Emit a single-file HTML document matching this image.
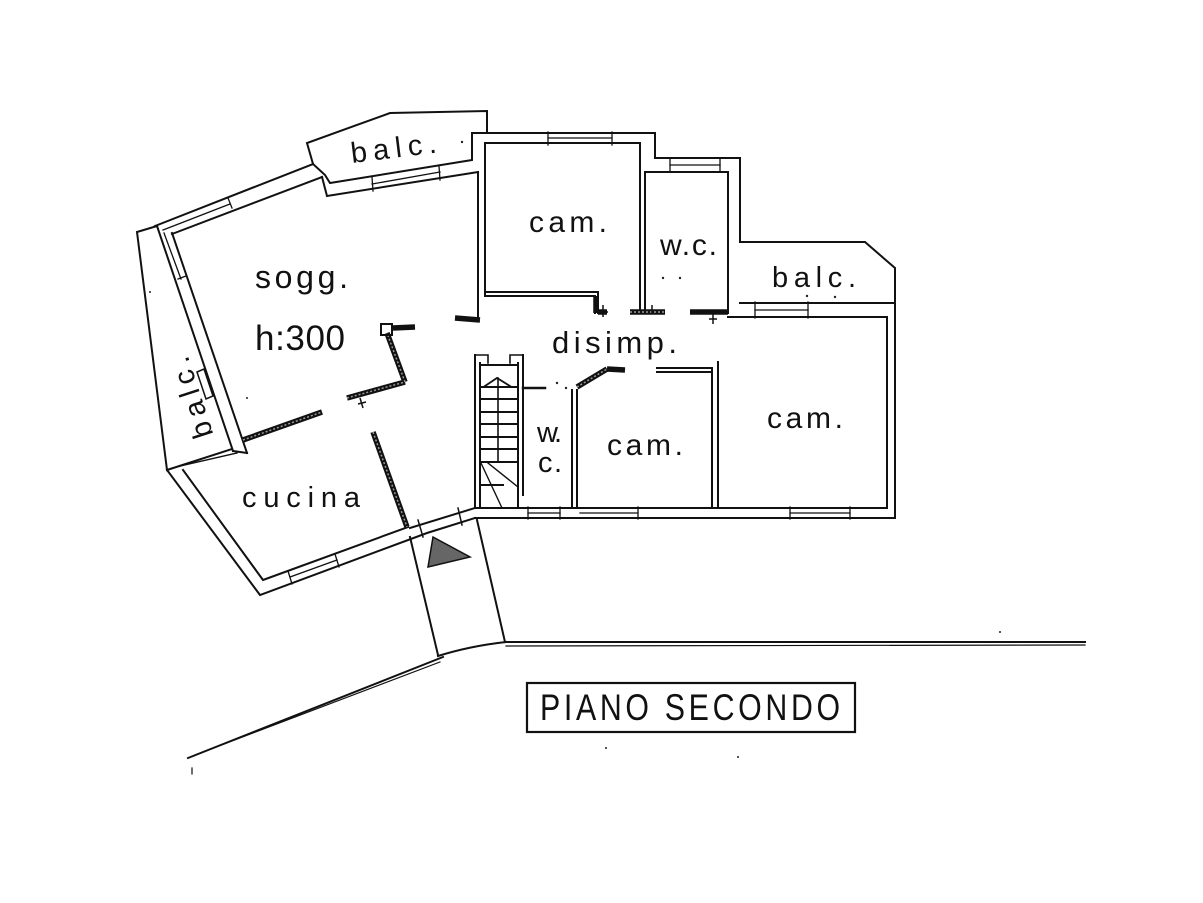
<!DOCTYPE html>
<html><head><meta charset="utf-8"><style>
html,body{margin:0;padding:0;background:#fff;}
svg{display:block;}
text{font-family:"Liberation Sans",sans-serif;fill:#111;}
</style></head><body>
<svg width="1203" height="903" viewBox="0 0 1203 903" xmlns="http://www.w3.org/2000/svg">
<rect width="1203" height="903" fill="#fff"/>
<g fill="none" stroke="#111" stroke-width="2" stroke-linejoin="miter" stroke-linecap="square">
<!-- left balcony -->
<polyline points="157,226 137,232 167,470 232,449"/>
<line x1="180" y1="466" x2="237" y2="453" stroke-width="1.4"/>
<!-- sogg west wall -->
<line x1="157" y1="226" x2="233" y2="451"/>
<line x1="172" y1="233" x2="247" y2="453"/>
<line x1="164" y1="233" x2="181" y2="279" stroke-width="1.3"/>
<line x1="178" y1="279" x2="186" y2="276" stroke-width="1.3"/>
<polygon points="197,372 204,369 213,396 206,399" stroke-width="1.5"/>
<line x1="233" y1="451" x2="247" y2="453"/>
<!-- sogg north wall -->
<line x1="155" y1="226" x2="313" y2="164"/>
<line x1="172" y1="234" x2="322" y2="177"/>
<line x1="163" y1="230" x2="230" y2="204" stroke-width="1.3"/>
<line x1="228" y1="198" x2="232" y2="208" stroke-width="1.3"/>
<polyline points="322,177 327,196 478,172"/>
<!-- top balcony -->
<polyline points="313,164 307,143 390,113 487,111 487,133"/>
<polyline points="313,164 325,175 330,183 472,160 472,133"/>
<line x1="372" y1="184" x2="440" y2="172" stroke-width="1.3"/>
<line x1="372" y1="177" x2="373" y2="191" stroke-width="1.3"/>
<line x1="439" y1="166" x2="440" y2="180" stroke-width="1.3"/>
<!-- cam top room -->
<polyline points="472,133 655,133 655,158 740,158 740,242 865,242 895,268 895,518"/>
<polyline points="485,296 485,143 640,143 640,313"/>
<line x1="478" y1="172" x2="478" y2="320"/>
<line x1="548" y1="138" x2="612" y2="138" stroke-width="1.3"/>
<line x1="548" y1="132" x2="548" y2="145" stroke-width="1.3"/>
<line x1="612" y1="132" x2="612" y2="145" stroke-width="1.3"/>
<polyline points="485,292 598,292 598,313"/>
<polyline points="487,296 595,296 595,313"/>
<!-- wc top -->
<polyline points="645,313 645,172 728,172 728,313"/>
<line x1="670" y1="165" x2="720" y2="165" stroke-width="1.3"/>
<line x1="670" y1="159" x2="670" y2="172" stroke-width="1.3"/>
<line x1="720" y1="159" x2="720" y2="172" stroke-width="1.3"/>
<!-- right cam -->
<line x1="740" y1="303" x2="895" y2="303"/>
<polyline points="728,317 887,317 887,508"/>
<line x1="755" y1="310" x2="808" y2="310" stroke-width="1.3"/>
<line x1="755" y1="302" x2="755" y2="318" stroke-width="1.3"/>
<line x1="808" y1="302" x2="808" y2="318" stroke-width="1.3"/>
<!-- bottom wall -->
<line x1="475" y1="508" x2="887" y2="508"/>
<line x1="475" y1="518" x2="895" y2="518"/>
<line x1="528" y1="513" x2="560" y2="513" stroke-width="1.3"/>
<line x1="528" y1="507" x2="528" y2="519" stroke-width="1.3"/>
<line x1="560" y1="507" x2="560" y2="519" stroke-width="1.3"/>
<line x1="580" y1="513" x2="638" y2="513" stroke-width="1.3"/>
<line x1="638" y1="507" x2="638" y2="519" stroke-width="1.3"/>
<line x1="790" y1="513" x2="850" y2="513" stroke-width="1.3"/>
<line x1="790" y1="507" x2="790" y2="519" stroke-width="1.3"/>
<line x1="850" y1="507" x2="850" y2="519" stroke-width="1.3"/>
<!-- partitions lower -->
<line x1="712" y1="368" x2="712" y2="508"/>
<line x1="718" y1="362" x2="718" y2="508"/>
<line x1="657" y1="368" x2="712" y2="368"/>
<line x1="657" y1="372" x2="712" y2="372"/>
<line x1="572" y1="390" x2="572" y2="508"/>
<line x1="577" y1="390" x2="577" y2="508"/>
<!-- stairs -->
<line x1="475" y1="355" x2="475" y2="508"/>
<line x1="480" y1="363" x2="480" y2="508"/>
<line x1="518" y1="363" x2="518" y2="508"/>
<line x1="523" y1="355" x2="523" y2="495"/>
<line x1="480" y1="365" x2="518" y2="365"/>
<polyline points="475,355 488,355 488,363" stroke-width="1.6"/>
<polyline points="510,363 510,355 523,355" stroke-width="1.6"/>
<g stroke-width="2">
<line x1="480" y1="387" x2="518" y2="387"/>
<line x1="480" y1="399" x2="518" y2="399"/>
<line x1="480" y1="412" x2="518" y2="412"/>
<line x1="480" y1="424" x2="518" y2="424"/>
<line x1="480" y1="437" x2="518" y2="437"/>
<line x1="480" y1="449" x2="518" y2="449"/>
<line x1="480" y1="462" x2="518" y2="462"/>
<line x1="480" y1="485" x2="503" y2="485"/>
</g>
<polyline points="485,386 497,378 510,386" stroke-width="1.8"/>
<line x1="498" y1="378" x2="498" y2="462" stroke-width="1.6"/>
<line x1="481" y1="463" x2="502" y2="508" stroke-width="1.4"/>
<line x1="488" y1="463" x2="518" y2="487" stroke-width="1.4"/>
<line x1="523" y1="388" x2="545" y2="388" stroke-width="2.5"/>
<!-- cucina -->
<polyline points="167,470 260,595 427,533 475,518"/>
<polyline points="183,470 263,580 408,527"/>
<polyline points="410,528 475,508"/>
<line x1="290" y1="577" x2="337" y2="560" stroke-width="1.3"/>
<line x1="288" y1="571" x2="292" y2="584" stroke-width="1.3"/>
<line x1="335" y1="554" x2="339" y2="567" stroke-width="1.3"/>
<line x1="418" y1="520" x2="423" y2="537" stroke-width="1.5"/>
<line x1="458" y1="508" x2="462" y2="525" stroke-width="1.5"/>
<!-- entrance -->
<line x1="410" y1="537" x2="438" y2="655" stroke-width="2"/>
<line x1="477" y1="520" x2="505" y2="642" stroke-width="2"/>
<path d="M438,656 Q470,646 506,642" stroke-width="2"/>
<line x1="506" y1="642" x2="1085" y2="642" stroke-width="2"/>
<line x1="506" y1="646" x2="1085" y2="645" stroke-width="1.2"/>
<line x1="443" y1="657" x2="188" y2="758" stroke-width="2"/>
<line x1="440" y1="662" x2="195" y2="755" stroke-width="1.2"/>
<line x1="192" y1="768" x2="192" y2="774" stroke-width="1.2"/>
<!-- title box -->
<rect x="527" y="683" width="328" height="49" stroke-width="2.2"/>
</g>
<!-- hatched partitions -->
<g fill="none" stroke-linecap="butt">
<g stroke="#111" stroke-width="5.5">
<line x1="243" y1="440" x2="322" y2="412"/>
<line x1="347" y1="398" x2="405" y2="382"/>
<line x1="405" y1="382" x2="387" y2="333"/>
<line x1="393" y1="328" x2="415" y2="327"/>
<line x1="373" y1="432" x2="407" y2="527"/>
<line x1="455" y1="318" x2="480" y2="320"/>
<line x1="577" y1="387" x2="607" y2="369"/>
<line x1="607" y1="369" x2="625" y2="370"/>
<line x1="598" y1="312" x2="607" y2="312"/>
<line x1="630" y1="312" x2="665" y2="312"/>
<line x1="690" y1="312" x2="728" y2="312"/>
<line x1="596" y1="296" x2="596" y2="313"/>
</g>
<g stroke="#999" stroke-width="1.5" stroke-dasharray="2 2">
<line x1="243" y1="440" x2="322" y2="412"/>
<line x1="347" y1="398" x2="405" y2="382"/>
<line x1="405" y1="382" x2="387" y2="333"/>
<line x1="373" y1="432" x2="407" y2="527"/>
<line x1="577" y1="387" x2="607" y2="369"/>
<line x1="630" y1="312" x2="665" y2="312"/>
</g>
<rect x="381" y="324" width="11" height="11" stroke="#111" stroke-width="2"/>
<g stroke="#111" stroke-width="1.5">
<path d="M360,398 l3,10 M358,404 l8,-2"/>
<path d="M603,305 l0,12 M600,312 l8,0"/>
<path d="M713,314 l0,10 M709,319 l8,0"/>
<path d="M652,305 l0,8"/>
</g>
</g>
<!-- entrance triangle -->
<polygon points="433,537 470,557 428,567" fill="#666" stroke="#111" stroke-width="1.5"/>
<!-- dots -->
<g fill="#222">
<circle cx="663" cy="278" r="1.2"/><circle cx="680" cy="278" r="1.2"/>
<circle cx="807" cy="296" r="1.2"/><circle cx="835" cy="297" r="1.2"/>
<circle cx="462" cy="142" r="1.2"/><circle cx="150" cy="292" r="1"/>
<circle cx="557" cy="383" r="1.2"/><circle cx="566" cy="388" r="1.2"/>
<circle cx="247" cy="398" r="1"/><circle cx="1000" cy="632" r="1"/>
<circle cx="606" cy="748" r="1"/><circle cx="738" cy="757" r="1"/>
</g>
<!-- labels -->
<text x="352" y="163" font-size="29" textLength="86" lengthAdjust="spacing" transform="rotate(-7 352 163)">balc.</text>
<text x="255" y="288" font-size="32" textLength="93" lengthAdjust="spacing">sogg.</text>
<text x="255" y="350" font-size="35" textLength="90" lengthAdjust="spacing">h:300</text>
<text x="529" y="232" font-size="30" textLength="78" lengthAdjust="spacing">cam.</text>
<text x="660" y="255" font-size="30" textLength="57" lengthAdjust="spacing">w.c.</text>
<text x="772" y="287" font-size="29" textLength="84" lengthAdjust="spacing">balc.</text>
<text x="552" y="353" font-size="31" textLength="125" lengthAdjust="spacing">disimp.</text>
<text x="607" y="455" font-size="30" textLength="76" lengthAdjust="spacing">cam.</text>
<text x="767" y="428" font-size="30" textLength="76" lengthAdjust="spacing">cam.</text>
<text x="537" y="442" font-size="29" textLength="25" lengthAdjust="spacing">w.</text>
<text x="538" y="472" font-size="29" textLength="24" lengthAdjust="spacing">c.</text>
<text x="242" y="507" font-size="29" textLength="118" lengthAdjust="spacing">cucina</text>
<text x="0" y="11" font-size="29" text-anchor="middle" textLength="84" lengthAdjust="spacing" transform="translate(190,398) rotate(-108)">balc.</text>
<text x="0" y="0" font-size="37" textLength="366" lengthAdjust="spacing" transform="translate(540,720) scale(0.82,1)">PIANO SECONDO</text>
</svg>
</body></html>
